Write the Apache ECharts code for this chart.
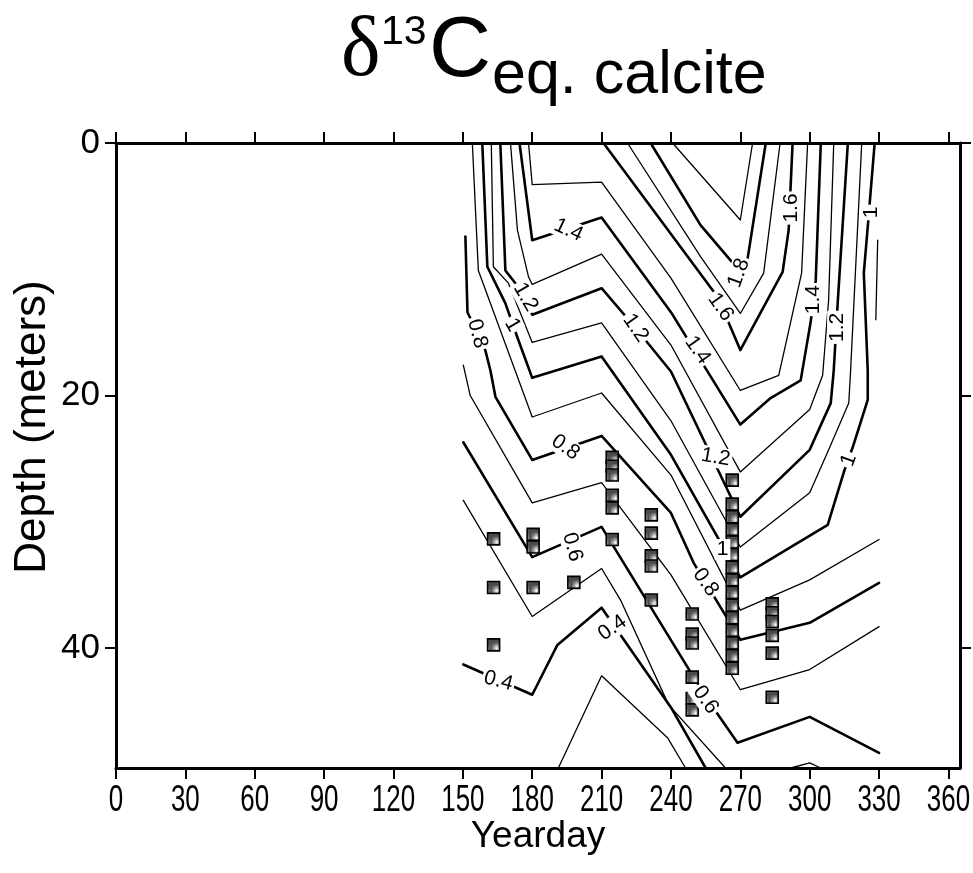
<!DOCTYPE html>
<html>
<head>
<meta charset="utf-8">
<script src="https://cdn.jsdelivr.net/npm/echarts@6/dist/echarts.min.js"></script>
<style>
  html, body { margin: 0; padding: 0; background: #fff; }
  #chart { width: 973px; height: 873px; }
</style>
</head>
<body>
<div id="chart"></div>
<script>
// Axis ticks
const xTicks = [0, 30, 60, 90, 120, 150, 180, 210, 240, 270, 300, 330, 360];
const yTicks = [0, 20, 40];

// Contour polylines, [yearday, depth (m)] vertices, one array per level
const c03 = [[191.3, 49.5], [210, 42.2], [238.5, 47.1], [246.3, 49.5]];
const c04 = [[150.2, 41.3], [180, 43.7], [190.9, 39.75], [210, 36.8], [240, 44.7], [255.0, 49.5]];
const c05 = [[150.2, 28.3], [180, 37.5], [210, 33.7], [218.2, 36.2], [239.0, 44.5], [263.6, 49.5]];
const c05b = [[291.8, 49.5], [300, 49.1], [304.8, 49.5]];
const c06 = [[150.2, 23.7], [180, 32.8], [210, 30.4], [229.4, 36.2], [249.8, 42.3], [259.7, 45.1], [268.8, 47.5], [300, 45.45], [330, 48.3]];
const c07 = [[150.2, 17.6], [153.2, 20.0], [180, 28.5], [210, 26.9], [240, 34.2], [270, 43.3], [300, 41.7], [330, 38.3]];
const c08 = [[151.1, 7.4], [152.0, 13.4], [159.7, 16.4], [161.9, 18.0], [164.1, 20.1], [180, 25.1], [210, 23.2], [240, 29.3], [249.8, 33.25], [270, 39.35], [300, 38.0], [330, 34.84]];
const c09 = [[154.1, 0], [156.7, 10.1], [180, 21.7], [210, 19.8], [240, 26.3], [270, 37.0], [300, 34.6], [330, 31.4]];
const c09b = [[329.4, 7.7], [328.6, 14.0]];
const c10 = [[158.4, 0], [160.6, 9.8], [168.4, 12.7], [173.6, 15.4], [180, 18.6], [210, 16.9], [240, 24.7], [270, 34.4], [307.8, 30.25], [314.7, 26.1], [318.6, 24.1], [325.1, 20.35], [325.1, 18.0], [323.4, 10.3], [325.1, 6.65], [328.1, 0]];
const c11 = [[162.3, 0], [163.2, 9.8], [169.7, 11.1], [180, 15.8], [210, 14.25], [240, 22.0], [270, 32.0], [300, 27.7], [308.2, 24.3], [316.9, 20.6], [317.7, 18.0], [322.5, 0]];
const c12 = [[166.2, 0], [168.4, 10.1], [174.0, 11.4], [180, 13.6], [210, 11.5], [224.7, 14.65], [240, 18.1], [270, 29.6], [300, 24.3], [309.1, 20.6], [310.4, 18.0], [312.1, 12.7], [316.5, 0]];
const c13 = [[170.6, 0], [173.6, 6.9], [178.4, 10.6], [180, 11.2], [210, 8.8], [240, 16.0], [270, 26.05], [300, 21.1], [305.6, 18.4], [308.2, 12.4], [310.4, 0]];
const c14 = [[174.5, 0], [180, 7.7], [210, 5.9], [240, 13.4], [270, 22.3], [283.1, 20.2], [296.1, 18.8], [300.4, 14.2], [302.6, 10.9], [304.8, 0]];
const c15 = [[178.4, 0], [180, 3.3], [210, 3.1], [240, 10.7], [270, 19.6], [286.6, 18.4], [296.5, 10.3], [299.1, 0]];
const c16 = [[210.8, 0], [260.2, 12.2], [270, 16.4], [288.3, 10.2], [290.9, 6.9], [292.6, 0]];
const c17 = [[221.2, 0], [252.8, 9.0], [270, 13.5], [280.1, 10.3], [287.2, 0]];
const c18 = [[231.2, 0], [252.8, 6.5], [266.7, 9.5], [270, 10.6], [273.2, 9.1], [281.0, 0]];
const c19 = [[240.7, 0], [270, 6.1], [275.3, 0]];

const contours = [
  { level: 0.3, pts: c03 }, { level: 0.4, pts: c04 }, { level: 0.5, pts: c05 },
  { level: 0.5, pts: c05b }, { level: 0.6, pts: c06 }, { level: 0.7, pts: c07 },
  { level: 0.8, pts: c08 }, { level: 0.9, pts: c09 }, { level: 0.9, pts: c09b },
  { level: 1.0, pts: c10 }, { level: 1.1, pts: c11 }, { level: 1.2, pts: c12 },
  { level: 1.3, pts: c13 }, { level: 1.4, pts: c14 }, { level: 1.5, pts: c15 },
  { level: 1.6, pts: c16 }, { level: 1.7, pts: c17 }, { level: 1.8, pts: c18 },
  { level: 1.9, pts: c19 }
];

// Contour labels: [yearday, depth, text]
const contourLabels = [
  [195.7, 6.9, '1.4'], [177.1, 12.2, '1.2'], [171.4, 14.4, '1'], [156.3, 15.1, '0.8'],
  [194.4, 24.1, '0.8'], [224.7, 14.65, '1.2'], [251.5, 16.4, '1.4'], [261.5, 13.0, '1.6'],
  [269.3, 10.3, '1.8'], [291.8, 5.15, '1.6'], [301.7, 12.4, '1.4'], [312.1, 14.6, '1.2'],
  [326.4, 5.5, '1'], [316.9, 25.1, '1'], [259.3, 24.9, '1.2'], [262.3, 32.2, '1'],
  [255.0, 34.8, '0.8'], [255.0, 44.1, '0.6'], [197.4, 32.0, '0.6'], [214.7, 38.4, '0.4'],
  [165.4, 42.6, '0.4']
];
const labelAngles = [-25, -60, -60, -75, -35, -55, -55, -55, 70, 90, 90, 90, 90, 70, -10, 0, -55, -55, -75, 35, -15];

// Sample depths by station yearday
const st163 = [[163.3, 31.35], [163.3, 35.2], [163.3, 39.75]];
const st180 = [[180.4, 31.0], [180.4, 32.0], [180.4, 35.2]];
const st198 = [[198.0, 32.1], [198.0, 34.8]];
const st215 = [[214.6, 24.9], [214.6, 25.6], [214.6, 26.3], [214.6, 27.9], [214.6, 28.9], [214.6, 31.4]];
const st232 = [[231.5, 29.45], [231.5, 30.9], [231.5, 32.7], [231.5, 33.5], [231.5, 36.2]];
const st249 = [[249.2, 37.3], [249.2, 38.9], [249.2, 39.6], [249.2, 42.3], [249.2, 44.0], [249.2, 44.9]];
const st267 = [[266.5, 26.7], [266.5, 28.6], [266.5, 29.6], [266.5, 30.6], [266.5, 31.6], [266.5, 32.6], [266.5, 33.6], [266.5, 34.6], [266.5, 35.6], [266.5, 36.6], [266.5, 37.6], [266.5, 38.6], [266.5, 39.6], [266.5, 40.6], [266.5, 41.6]];
const st284 = [[283.8, 36.5], [283.8, 37.2], [283.8, 37.9], [283.8, 39.0], [283.8, 40.4], [283.8, 43.9]];
const samples = [].concat(st163, st180, st198, st215, st232, st249, st267, st284);

// Speckled fill for the sample squares
function speckle() {
  const cv = document.createElement('canvas');
  cv.width = 4; cv.height = 4;
  const g = cv.getContext('2d');
  g.fillStyle = '#4a4a4a'; g.fillRect(0, 0, 4, 4);
  g.fillStyle = '#ffffff';
  g.fillRect(0, 0, 1, 1); g.fillRect(2, 2, 1, 1); g.fillRect(2, 0, 1, 1);
  return cv;
}

const chart = echarts.init(document.getElementById('chart'), null, { renderer: 'canvas' });

const isMajor = lv => Math.round(lv * 10) % 2 === 0;
const lineSeries = contours.map(c => ({
  type: 'line',
  data: c.pts,
  symbol: 'none',
  showSymbol: false,
  silent: true,
  clip: true,
  z: 2,
  lineStyle: { color: '#000', width: isMajor(c.level) ? 2.6 : 1.3, cap: 'round', join: 'round' }
}));

// Contour labels drawn as text on a white patch that breaks the line underneath
const labelSeries = {
  type: 'custom',
  silent: true,
  z: 4,
  data: contourLabels.map((l, i) => [l[0], l[1], i]),
  renderItem: function (params, api) {
    const p = api.coord([api.value(0), api.value(1)]);
    const i = api.value(2);
    return {
      type: 'text',
      x: p[0], y: p[1],
      rotation: labelAngles[i] * Math.PI / 180,
      style: {
        text: contourLabels[i][2],
        fill: '#000',
        font: '21px "Liberation Sans", Arial, sans-serif',
        align: 'center', verticalAlign: 'middle',
        backgroundColor: '#fff',
        padding: [0, 2]
      }
    };
  }
};

const sampleSeries = {
  type: 'scatter',
  data: samples,
  symbol: 'rect',
  symbolSize: 12,
  silent: true,
  z: 3,
  itemStyle: {
    color: { image: speckle(), repeat: 'repeat' },
    borderColor: '#000',
    borderWidth: 1.6,
    opacity: 1
  }
};

const axisLine = { show: true, onZero: false, lineStyle: { color: '#000', width: 3 } };
const sans = '"Liberation Sans", Arial, sans-serif';

chart.setOption({
  animation: false,
  backgroundColor: '#fff',
  grid: { left: 116, right: 13, top: 143, bottom: 105, containLabel: false, outerBoundsMode: 'none' },
  xAxis: [
    {
      type: 'value', position: 'bottom', min: 0, max: 365, interval: 30,
      axisLine: axisLine,
      axisTick: { show: true, inside: false, length: 11, lineStyle: { color: '#000', width: 2 }, customValues: xTicks },
      axisLabel: { show: false },
      splitLine: { show: false },
      name: 'Yearday', nameLocation: 'middle', nameGap: 50,
      nameTextStyle: { color: '#000', fontSize: 37, fontFamily: sans }
    },
    {
      type: 'value', position: 'top', min: 0, max: 365, interval: 30,
      axisLine: axisLine,
      axisTick: { show: true, inside: false, length: 11, lineStyle: { color: '#000', width: 2 }, customValues: xTicks },
      axisLabel: { show: false },
      splitLine: { show: false }
    }
  ],
  yAxis: [
    {
      type: 'value', position: 'left', inverse: true, min: 0, max: 49.5, interval: 20,
      axisLine: axisLine,
      axisTick: { show: true, inside: false, length: 11, lineStyle: { color: '#000', width: 2 }, customValues: yTicks },
      axisLabel: { show: true, margin: 16, color: '#000', fontSize: 35, fontFamily: sans, customValues: yTicks },
      splitLine: { show: false }
    },
    {
      type: 'value', position: 'right', inverse: true, min: 0, max: 49.5, interval: 20,
      axisLine: axisLine,
      axisTick: { show: true, inside: false, length: 11, lineStyle: { color: '#000', width: 2 }, customValues: yTicks },
      axisLabel: { show: false },
      splitLine: { show: false }
    }
  ],
  series: lineSeries.concat([sampleSeries, labelSeries])
});

// Narrow yearday tick labels placed at the axis positions, plus title and depth caption
const bottomY = chart.convertToPixel({ yAxisIndex: 0 }, 49.5);
const tickText = xTicks.map(v => ({
  type: 'text',
  x: chart.convertToPixel({ xAxisIndex: 0 }, v),
  y: bottomY + 14,
  scaleX: 0.7,
  style: { text: String(v), font: '37px ' + sans, fill: '#000', align: 'center', verticalAlign: 'top', textAlign: 'center', textVerticalAlign: 'top' }
}));

chart.setOption({
  graphic: tickText.concat([
    { type: 'text', x: 33, y: 427, rotation: Math.PI / 2, style: { text: 'Depth (meters)', font: '44px ' + sans, fill: '#000', align: 'center', verticalAlign: 'middle', textAlign: 'center', textVerticalAlign: 'middle' } },
    { type: 'text', x: 341, y: 53, style: { text: 'δ', font: '84px "Liberation Serif", serif', fill: '#000', align: 'left', verticalAlign: 'middle', textAlign: 'left', textVerticalAlign: 'middle' } },
    { type: 'text', x: 381, y: 33, style: { text: '13', font: '41px ' + sans, fill: '#000', align: 'left', verticalAlign: 'middle', textAlign: 'left', textVerticalAlign: 'middle' } },
    { type: 'text', x: 429, y: 52, style: { text: 'C', font: '86px ' + sans, fill: '#000', align: 'left', verticalAlign: 'middle', textAlign: 'left', textVerticalAlign: 'middle' } },
    { type: 'text', x: 492, y: 76, style: { text: 'eq. calcite', font: '61px ' + sans, fill: '#000', align: 'left', verticalAlign: 'middle', textAlign: 'left', textVerticalAlign: 'middle' } }
  ])
});
</script>
</body>
</html>
